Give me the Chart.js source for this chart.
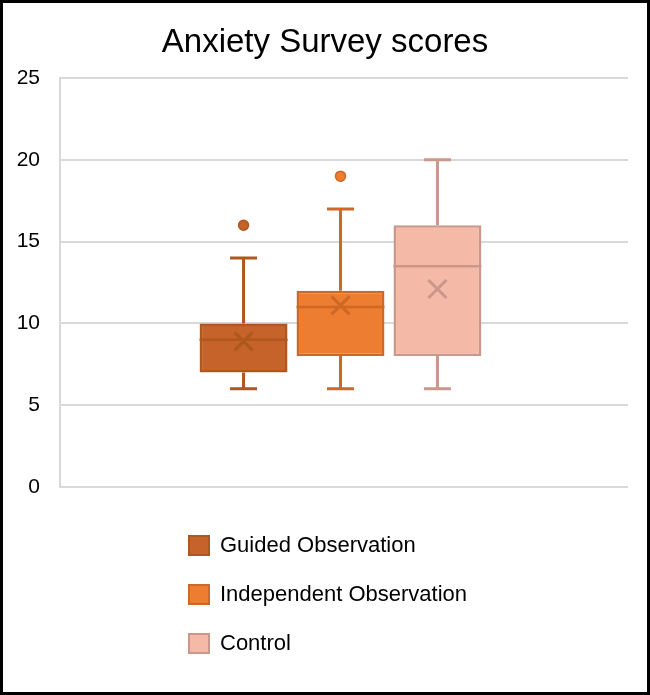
<!DOCTYPE html>
<html>
<head>
<meta charset="utf-8">
<script src="https://cdn.jsdelivr.net/npm/chart.js@4"></script>
<style>
  body { margin: 0; background: #fff; }
  #frame {
    position: relative; width: 650px; height: 695px; box-sizing: border-box;
    border: 3px solid #000; background: #fff;
    font-family: 'Liberation Sans', Arial, sans-serif;
  }
  #chartBox { position: absolute; left: 0; top: 0; width: 644px; height: 689px; }
  #legend { position: absolute; left: 185px; top: 531px; }
  .item { display: flex; align-items: center; height: 22px; margin-bottom: 27px; font-size: 22px; color: #000; }
  .swatch { width: 22px; height: 21px; box-sizing: border-box; border: 2px solid; margin-right: 10px; }
</style>
</head>
<body>
<div id="frame">
  <div id="chartBox"><canvas id="box-chart"></canvas></div>
  <div id="legend"></div>
</div>
<script>
// survey groups and their five-number summaries
const groups = ['Guided Observation', 'Independent Observation', 'Control'];
const mins = [6, 6, 6];
const q1s = [7, 8, 8];
const medians = [9, 11, 13.5];
const q3s = [10, 12, 16];
const maxs = [14, 17, 20];
const means = [8.9, 11.1, 12.1];
const outliers = [[16], [19], []];
const yTicks = [0, 5, 10, 15, 20, 25];

const fills = ['#C5632A', '#ED7D31', '#F4B9A7'];
const lines = ['#AE571E', '#CD6825', '#C9978B'];

const datasets = groups.map((g, i) => ({
  label: g,
  data: [[q1s[i], q3s[i]]],
  backgroundColor: fills[i],
  borderColor: lines[i],
  borderWidth: 2.5,
  borderSkipped: false
}));

// whiskers, median, mean marker and outliers are drawn on top of the floating bars
const boxParts = {
  id: 'boxParts',
  beforeDatasetsDraw(chart) {
    const y = chart.scales.y;
    const ctx = chart.ctx;
    ctx.save();
    chart.data.datasets.forEach((ds, i) => {
      const bar = chart.getDatasetMeta(i).data[0];
      const cap = 13.5;
      ctx.strokeStyle = lines[i];
      ctx.lineWidth = 3;
      ctx.beginPath();
      ctx.moveTo(bar.x, y.getPixelForValue(maxs[i]));
      ctx.lineTo(bar.x, y.getPixelForValue(q3s[i]));
      ctx.moveTo(bar.x, y.getPixelForValue(q1s[i]));
      ctx.lineTo(bar.x, y.getPixelForValue(mins[i]));
      ctx.moveTo(bar.x - cap, y.getPixelForValue(maxs[i]));
      ctx.lineTo(bar.x + cap, y.getPixelForValue(maxs[i]));
      ctx.moveTo(bar.x - cap, y.getPixelForValue(mins[i]));
      ctx.lineTo(bar.x + cap, y.getPixelForValue(mins[i]));
      ctx.stroke();
    });
    ctx.restore();
  },
  afterDatasetsDraw(chart) {
    const y = chart.scales.y;
    const ctx = chart.ctx;
    ctx.save();
    chart.data.datasets.forEach((ds, i) => {
      const bar = chart.getDatasetMeta(i).data[0];
      const half = bar.width / 2;
      ctx.strokeStyle = lines[i];
      ctx.lineWidth = 2.5;
      const my = y.getPixelForValue(medians[i]);
      ctx.beginPath();
      ctx.moveTo(bar.x - half, my);
      ctx.lineTo(bar.x + half, my);
      ctx.stroke();

      const ay = y.getPixelForValue(means[i]);
      const s = 9;
      ctx.lineWidth = 3;
      ctx.beginPath();
      ctx.moveTo(bar.x - s, ay - s);
      ctx.lineTo(bar.x + s, ay + s);
      ctx.moveTo(bar.x + s, ay - s);
      ctx.lineTo(bar.x - s, ay + s);
      ctx.stroke();

      outliers[i].forEach(v => {
        ctx.beginPath();
        ctx.arc(bar.x, y.getPixelForValue(v), 5, 0, Math.PI * 2);
        ctx.fillStyle = fills[i];
        ctx.fill();
        ctx.lineWidth = 1.5;
        ctx.stroke();
      });
    });
    ctx.restore();
  }
};

const ctx = document.getElementById('box-chart').getContext('2d');

const boxChart = new Chart(ctx, {
  type: 'bar',
  data: {
    labels: [''],
    datasets: datasets
  },
  plugins: [boxParts],
  options: {
    responsive: true,
    maintainAspectRatio: false,
    animation: false,
    categoryPercentage: 0.512,
    barPercentage: 0.907,
    layout: { padding: { left: 0, right: 0, top: 0, bottom: 205 } },
    plugins: {
      legend: { display: false },
      tooltip: { enabled: false },
      title: {
        display: true,
        text: 'Anxiety Survey scores',
        color: '#000',
        font: { family: "'Liberation Sans', Arial, sans-serif", size: 33, weight: 'normal' },
        padding: { top: 20, bottom: 15.4 }
      }
    },
    scales: {
      x: {
        display: false,
        // group sits a little left of the plot centre
        afterBuildTicks(scale) { scale._valueRange = 1.0125; }
      },
      y: {
        min: 0,
        max: 25,
        afterFit(scale) { scale.width = 57; },
        afterBuildTicks(scale) { scale.ticks = yTicks.map(v => ({ value: v })); },
        ticks: {
          color: '#000',
          padding: 20,
          font: { family: "'Liberation Sans', Arial, sans-serif", size: 21 }
        },
        grid: { color: '#D9D9D9', lineWidth: 2, drawTicks: false },
        border: { display: true, color: '#D9D9D9', width: 2 }
      },
      // empty strip on the right so the title stays centred on the whole frame
      yRight: {
        axis: 'y',
        position: 'right',
        min: 0,
        max: 25,
        afterFit(scale) { scale.width = 19; },
        ticks: { display: false },
        grid: { display: false, drawTicks: false },
        border: { display: false }
      }
    }
  }
});

// legend built from the same group list
const legendEl = document.getElementById('legend');
groups.forEach((g, i) => {
  const item = document.createElement('div');
  item.className = 'item';
  const sw = document.createElement('span');
  sw.className = 'swatch';
  sw.style.background = fills[i];
  sw.style.borderColor = lines[i];
  const label = document.createElement('span');
  label.textContent = g;
  item.appendChild(sw);
  item.appendChild(label);
  legendEl.appendChild(item);
});
</script>
</body>
</html>
